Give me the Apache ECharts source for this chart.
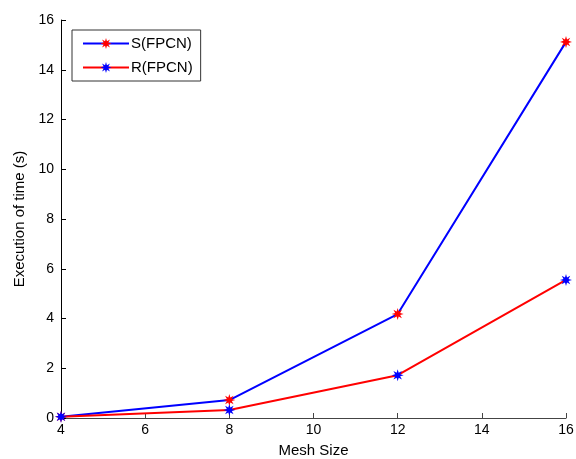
<!DOCTYPE html>
<html>
<head>
<meta charset="utf-8">
<script src="https://cdn.jsdelivr.net/npm/echarts@6/dist/echarts.min.js"></script>
<style>
	html,body{margin:0;padding:0;background:#fff;}
	#chart{width:576px;height:459px;}
</style>
</head>
<body>
<div id="chart"></div>
<script>
	// data
	var meshSize = [4, 8, 12, 16];
	var sFPCN = [0.05, 0.72, 4.18, 15.12];
	var rFPCN = [0.05, 0.32, 1.72, 5.55];

	// matlab style '*' marker as a filled 8-point star
	function starPath(){
		var pts = [];
		for (var i = 0; i < 16; i++) {
			var r = i % 2 === 0 ? 10 : 4.5;
			var a = Math.PI * i / 8;
			pts.push((10 + r * Math.sin(a)).toFixed(2) + ',' + (10 - r * Math.cos(a)).toFixed(2));
		}
		return 'path://M' + pts.join('L') + 'Z';
	}
	var star = starPath();

	function pairs(xs, ys){
		var out = [];
		for (var i = 0; i < xs.length; i++) out.push([xs[i], ys[i]]);
		return out;
	}

	var chart = echarts.init(document.getElementById('chart'));
	var font = 'Liberation Sans, Arial, sans-serif';
	var option = {
		animation: false,
		textStyle: {fontFamily: font},
		grid: {left: 61, right: 10, top: 20, bottom: 41, outerBoundsMode: 'none', containLabel: false},
		legend: {
			left: 72, top: 30,
			orient: 'vertical',
			padding: [6, 8, 6, 10],
			itemGap: 9,
			itemWidth: 46,
			itemHeight: 14,
			borderColor: '#333',
			borderWidth: 1,
			textStyle: {fontFamily: font, fontSize: 15, color: '#000', padding: [0, 0, 0, -3]},
			data: ['S(FPCN)', 'R(FPCN)']
		},
		xAxis: {
			type: 'value', min: 4, max: 16, interval: 2,
			name: 'Mesh Size', nameLocation: 'middle', nameGap: 25,
			nameTextStyle: {fontSize: 15, color: '#000'},
			axisLine: {lineStyle: {color: '#444', width: 1}},
			axisTick: {inside: true, length: 5, lineStyle: {color: '#444'}},
			axisLabel: {color: '#000', fontSize: 14, margin: 5},
			splitLine: {show: false}
		},
		yAxis: {
			type: 'value', min: 0, max: 16, interval: 2,
			name: 'Execution of time (s)', nameLocation: 'middle', nameGap: 30,
			nameTextStyle: {fontSize: 15, color: '#000'},
			axisLine: {show: true, lineStyle: {color: '#000', width: 1}},
			axisTick: {show: true, inside: true, length: 5, lineStyle: {color: '#000'}},
			axisLabel: {color: '#000', fontSize: 14, margin: 7},
			splitLine: {show: false}
		},
		series: [
			{
				name: 'S(FPCN)', type: 'line',
				data: pairs(meshSize, sFPCN),
				symbol: star, symbolSize: 12,
				lineStyle: {color: '#0000ff', width: 2},
				itemStyle: {color: '#ff0000'}
			},
			{
				name: 'R(FPCN)', type: 'line',
				data: pairs(meshSize, rFPCN),
				symbol: star, symbolSize: 12,
				lineStyle: {color: '#ff0000', width: 2},
				itemStyle: {color: '#0000ff'}
			}
		]
	};
	chart.setOption(option);
</script>
</body>
</html>
